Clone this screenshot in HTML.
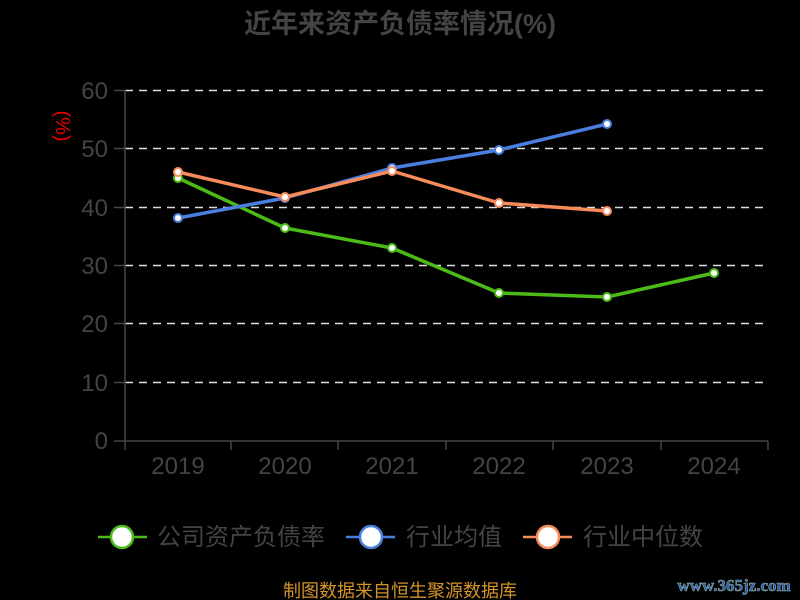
<!DOCTYPE html>
<html><head><meta charset="utf-8"><style>
body{margin:0;background:#000;}
svg{display:block;font-family:"Liberation Sans","Noto Sans CJK SC",sans-serif;}
</style></head><body>
<svg width="800" height="600" viewBox="0 0 800 600">
<rect width="800" height="600" fill="#000"/>
<text x="400" y="33" text-anchor="middle" font-size="27" font-weight="bold" fill="#444">近年来资产负债率情况(%)</text>
<g stroke="#ddd" stroke-width="1.5" stroke-dasharray="8,6">
<line x1="125" y1="90.5" x2="768" y2="90.5"/>
<line x1="125" y1="148.5" x2="768" y2="148.5"/>
<line x1="125" y1="207.5" x2="768" y2="207.5"/>
<line x1="125" y1="265.5" x2="768" y2="265.5"/>
<line x1="125" y1="323.5" x2="768" y2="323.5"/>
<line x1="125" y1="382.5" x2="768" y2="382.5"/>
</g>
<g stroke="#444" stroke-width="1.5">
<line x1="125" y1="90" x2="125" y2="441"/>
<line x1="125" y1="441" x2="768" y2="441"/>
<line x1="114" y1="90.5" x2="125" y2="90.5"/><line x1="114" y1="148.5" x2="125" y2="148.5"/>
<line x1="114" y1="207.5" x2="125" y2="207.5"/><line x1="114" y1="265.5" x2="125" y2="265.5"/>
<line x1="114" y1="323.5" x2="125" y2="323.5"/><line x1="114" y1="382.5" x2="125" y2="382.5"/>
<line x1="114" y1="441" x2="125" y2="441"/>
<line x1="125" y1="441" x2="125" y2="450"/><line x1="231" y1="441" x2="231" y2="450"/>
<line x1="338" y1="441" x2="338" y2="450"/><line x1="446" y1="441" x2="446" y2="450"/>
<line x1="553" y1="441" x2="553" y2="450"/><line x1="661" y1="441" x2="661" y2="450"/>
<line x1="768" y1="441" x2="768" y2="450"/>
</g>
<g fill="#444" font-size="24" text-anchor="end">
<text x="108" y="99">60</text><text x="108" y="157">50</text><text x="108" y="216">40</text>
<text x="108" y="274">30</text><text x="108" y="332">20</text><text x="108" y="391">10</text><text x="108" y="449">0</text>
</g>
<g fill="#444" font-size="24" text-anchor="middle">
<text x="178" y="474">2019</text><text x="285" y="474">2020</text><text x="392" y="474">2021</text>
<text x="499" y="474">2022</text><text x="607" y="474">2023</text><text x="714" y="474">2024</text>
</g>
<text transform="translate(56,126) rotate(90)" fill="#e00" font-size="20" text-anchor="middle">(%)</text>
<g fill="none" stroke-width="3.5" stroke-linejoin="round">
<polyline stroke="#4cbb17" points="178,178 285,228 392,248 499,293 607,297 714,273"/>
<polyline stroke="#4a7fe0" points="178,218 285,198 392,168 499,150 607,124"/>
<polyline stroke="#f68b5b" points="178,172 285,197 392,171 499,203 607,211"/>
</g>
<g fill="#fff" stroke-width="2">
<g stroke="#4cbb17"><circle cx="178" cy="178" r="4"/><circle cx="285" cy="228" r="4"/><circle cx="392" cy="248" r="4"/><circle cx="499" cy="293" r="4"/><circle cx="607" cy="297" r="4"/><circle cx="714" cy="273" r="4"/></g>
<g stroke="#4a7fe0"><circle cx="178" cy="218" r="4"/><circle cx="285" cy="198" r="4"/><circle cx="392" cy="168" r="4"/><circle cx="499" cy="150" r="4"/><circle cx="607" cy="124" r="4"/></g>
<g stroke="#f68b5b"><circle cx="178" cy="172" r="4"/><circle cx="285" cy="197" r="4"/><circle cx="392" cy="171" r="4"/><circle cx="499" cy="203" r="4"/><circle cx="607" cy="211" r="4"/></g>
</g>
<g font-size="24" fill="#444">
<line x1="98" y1="537" x2="147" y2="537" stroke="#4cbb17" stroke-width="2.5"/>
<circle cx="122" cy="537" r="11" fill="#fff" stroke="#4cbb17" stroke-width="2.5"/>
<text x="157" y="545">公司资产负债率</text>
<line x1="346" y1="537" x2="395" y2="537" stroke="#4a7fe0" stroke-width="2.5"/>
<circle cx="371" cy="537" r="11" fill="#fff" stroke="#4a7fe0" stroke-width="2.5"/>
<text x="406" y="545">行业均值</text>
<line x1="523" y1="537" x2="572" y2="537" stroke="#f68b5b" stroke-width="2.5"/>
<circle cx="548" cy="537" r="11" fill="#fff" stroke="#f68b5b" stroke-width="2.5"/>
<text x="583" y="545">行业中位数</text>
</g>
<text x="400" y="597" text-anchor="middle" font-size="18" fill="#d4942a">制图数据来自恒生聚源数据库</text>
<text x="734" y="591" text-anchor="middle" font-size="17" font-weight="bold" fill="#2a5aa8" stroke="#8aa" stroke-width="0.6" font-family="Liberation Serif, serif">www.365jz.com</text>
</svg>
</body></html>
